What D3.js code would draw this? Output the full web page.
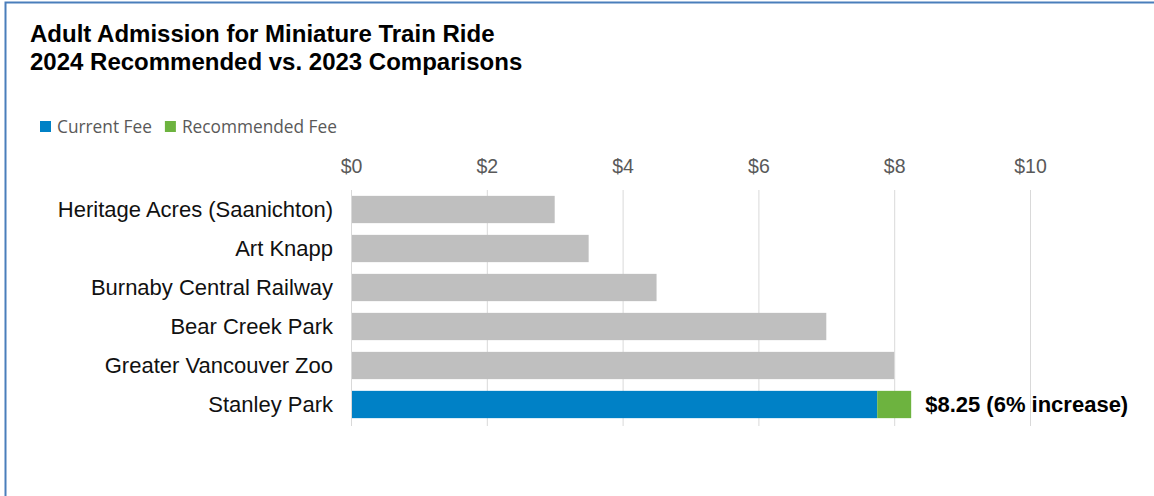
<!DOCTYPE html>
<html>
<head>
<meta charset="utf-8">
<script src="https://cdn.jsdelivr.net/npm/d3@7"></script>
<style>
	body { margin: 0; background: #fff; }
	svg { display: block; }
</style>
</head>
<body>
<script>
// chart data
const categories = ["Heritage Acres (Saanichton)", "Art Knapp", "Burnaby Central Railway", "Bear Creek Park", "Greater Vancouver Zoo", "Stanley Park"];
const currentFee = [3, 3.5, 4.5, 7, 8, 7.75];
const recommendedFee = [null, null, null, null, null, 8.25];
const xTicks = [0, 2, 4, 6, 8, 10];
const seriesNames = ["Current Fee", "Recommended Fee"];
const annotation = "$8.25 (6% increase)";

const w = 1154, h = 496,
	  gray = "#bfbfbf", blue = "#0081c6", green = "#6db33f";

const svg = d3.select("body")
			  .append("svg")
			  .attr("width", w)
			  .attr("height", h);

// frame border (top and left edge visible)
svg.append("path")
   .attr("d", "M5.5," + h + "V2.5H" + w)
   .attr("fill", "none")
   .attr("stroke", "#4a7ebb")
   .attr("stroke-width", 2);

// title
const title = svg.append("text")
				 .attr("font-family", "Liberation Sans, Arial, sans-serif")
				 .attr("font-weight", "bold")
				 .attr("font-size", 24)
				 .attr("fill", "#000");
title.append("tspan").attr("x", 30).attr("y", 42).text("Adult Admission for Miniature Train Ride");
title.append("tspan").attr("x", 30).attr("y", 70).text("2024 Recommended vs. 2023 Comparisons");

// legend
const legend = svg.append("g").attr("transform", "translate(40, 121)");
let lx = 0;
[blue, green].forEach((c, i) => {
	legend.append("rect")
		  .attr("x", lx).attr("y", 0)
		  .attr("width", 11).attr("height", 11)
		  .attr("fill", c);
	const t = legend.append("text")
					.attr("x", lx + 17).attr("y", 11.5)
					.attr("font-family", "Open Sans, sans-serif")
					.attr("font-size", 17.3)
					.attr("fill", "#595959")
					.text(seriesNames[i]);
	lx += 17 + t.node().getComputedTextLength() + 13;
});

// scales
const xScale = d3.scaleLinear()
				 .domain([0, 10])
				 .range([351, 1030]),
	  yScale = d3.scaleBand()
				 .domain(categories)
				 .range([190, 424])
				 .paddingInner(0.3)
				 .paddingOuter(0.15);

// grid lines
svg.append("g")
   .selectAll("line")
   .data(xTicks)
   .enter()
   .append("line")
   .attr("x1", d => xScale(d) + 0.5)
   .attr("x2", d => xScale(d) + 0.5)
   .attr("y1", 190)
   .attr("y2", 426)
   .attr("stroke", "#d9d9d9")
   .attr("stroke-width", 1);

// top axis
const xAxis = d3.axisTop(xScale)
				.tickValues(xTicks)
				.tickFormat(d => "$" + d)
				.tickSize(0)
				.tickPadding(0);
const gx = svg.append("g")
			  .attr("transform", "translate(0, 173)")
			  .call(xAxis);
gx.select(".domain").remove();
gx.selectAll("text")
  .attr("font-family", "Liberation Sans, Arial, sans-serif")
  .attr("font-size", 19.5)
  .attr("fill", "#595959");

// category axis
const yAxis = d3.axisLeft(yScale).tickSize(0).tickPadding(0);
const gy = svg.append("g")
			  .attr("transform", "translate(333, 0)")
			  .call(yAxis);
gy.select(".domain").remove();
gy.selectAll("text")
  .attr("font-family", "Liberation Sans, Arial, sans-serif")
  .attr("font-size", 22)
  .attr("fill", "#111")
  .attr("dy", "0.36em");

// bars: current fees (gray for comparisons, blue for Stanley Park)
const last = categories.length - 1;
svg.append("g")
   .selectAll("rect")
   .data(categories)
   .enter()
   .append("rect")
   .attr("x", xScale(0) + 1)
   .attr("y", d => yScale(d))
   .attr("width", (d, i) => xScale(currentFee[i]) - xScale(0) - 1)
   .attr("height", yScale.bandwidth())
   .attr("fill", (d, i) => i === last ? blue : gray);

// recommended increase stacked on top
svg.append("g")
   .selectAll("rect")
   .data(categories.filter((d, i) => recommendedFee[i] != null))
   .enter()
   .append("rect")
   .attr("x", d => xScale(currentFee[categories.indexOf(d)]))
   .attr("y", d => yScale(d))
   .attr("width", d => {
		const i = categories.indexOf(d);
		return xScale(recommendedFee[i]) - xScale(currentFee[i]);
	})
   .attr("height", yScale.bandwidth())
   .attr("fill", green);

// annotation label
svg.append("text")
   .attr("x", xScale(recommendedFee[last]) + 14)
   .attr("y", yScale(categories[last]) + yScale.bandwidth() / 2)
   .attr("dy", "0.36em")
   .attr("font-family", "Liberation Sans, Arial, sans-serif")
   .attr("font-weight", "bold")
   .attr("font-size", 22)
   .attr("fill", "#000")
   .text(annotation);
</script>
</body>
</html>
